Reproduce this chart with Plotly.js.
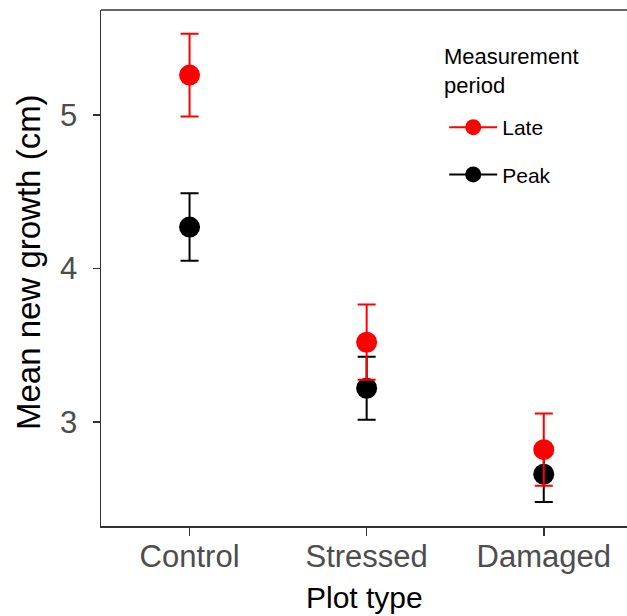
<!DOCTYPE html>
<html>
<head>
<meta charset="utf-8">
<script src="https://cdn.plot.ly/plotly-3.0.1.min.js"></script>
<style>html,body{margin:0;padding:0;background:#fff;}#chart{width:627px;height:616px;}</style>
</head>
<body>
<div id="chart"></div>
<script>
const categories = ["Control", "Stressed", "Damaged"];
const lateMean = [5.26, 3.52, 2.82];
const lateErr = [0.27, 0.245, 0.235];
const peakMean = [4.27, 3.22, 2.66];
const peakErr = [0.22, 0.205, 0.18];
const seriesNames = ["Late", "Peak"];
const seriesColors = ["#FF0000", "#000000"];
const legendTitle = "Measurement<br>period";
const xTitle = "Plot type";
const yTitle = "Mean new growth (cm)";

const xIdx = categories.map((c, i) => i);

function dataTrace(y, err, color) {
  return {
    type: "scatter", mode: "markers", x: xIdx, y: y,
    marker: {color: color, size: 21},
    error_y: {type: "data", array: err, visible: true, color: color, thickness: 2, width: 9},
    showlegend: false, hoverinfo: "skip"
  };
}
function legendTrace(name, color, group) {
  return {
    type: "scatter", mode: "lines+markers", x: [null], y: [null], name: name,
    legendgroup: group,
    line: {color: color, width: 2}, marker: {color: color, size: 21}
  };
}

const traces = [
  dataTrace(peakMean, peakErr, seriesColors[1]),
  dataTrace(lateMean, lateErr, seriesColors[0]),
  legendTrace(seriesNames[0], seriesColors[0], "a"),
  legendTrace(seriesNames[1], seriesColors[1], "b")
];

const layout = {
  width: 627, height: 616,
  margin: {l: 101, r: 0, t: 10, b: 90},
  paper_bgcolor: "#fff", plot_bgcolor: "#fff",
  font: {family: "Liberation Sans, Arial, sans-serif", color: "#000"},
  xaxis: {
    range: [-0.5, 2.47], tickvals: xIdx, ticktext: categories,
    showgrid: false, zeroline: false, showline: true, linecolor: "#333333", linewidth: 1.5,
    ticks: "outside", ticklen: 8, tickwidth: 1.5, tickcolor: "#333333",
    tickfont: {size: 31, color: "#4D4D4D"}, ticklabelstandoff: -6
  },
  yaxis: {
    range: [2.323, 5.684], tickvals: [3, 4, 5], ticktext: ["3", "4", "5"],
    showgrid: false, zeroline: false, showline: true, linecolor: "#333333", linewidth: 1.5,
    ticks: "outside", ticklen: 7, tickwidth: 1.5, tickcolor: "#333333",
    tickfont: {size: 31, color: "#4D4D4D"}, ticklabelstandoff: 9
  },
  legend: {
    x: 0.6525, y: 0.812, xanchor: "left", yanchor: "top",
    font: {size: 21, color: "#000"},
    itemwidth: 48,
    traceorder: "grouped", tracegroupgap: 17,
    bgcolor: "rgba(0,0,0,0)"
  },
  annotations: [
    {text: legendTitle, xref: "paper", yref: "paper", x: 0.6474, y: 0.938,
     xanchor: "left", yanchor: "top", align: "left", showarrow: false,
     font: {size: 22, color: "#000"}},
    {text: xTitle, xref: "paper", yref: "paper", x: (364 - 101) / 526, y: (526 - 597) / 516,
     xanchor: "center", yanchor: "middle", showarrow: false,
     font: {size: 30, color: "#000"}},
    {text: yTitle, xref: "paper", yref: "paper", x: (28 - 101) / 526, y: (526 - 262) / 516,
     xanchor: "center", yanchor: "middle", showarrow: false, textangle: -90,
     font: {size: 33, color: "#000"}}
  ],
  shapes: [{type: "line", xref: "paper", yref: "paper", x0: 0, x1: 1, y0: 1, y1: 1,
            line: {color: "#333333", width: 1.5}}]
};

Plotly.newPlot("chart", traces, layout, {displayModeBar: false, staticPlot: true});
</script>
</body>
</html>
